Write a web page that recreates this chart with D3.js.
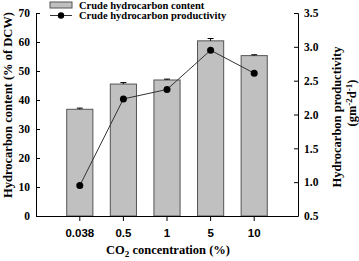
<!DOCTYPE html>
<html><head><meta charset="utf-8">
<script src="https://cdn.jsdelivr.net/npm/d3@7"></script>
<style>body{margin:0;background:#fff}svg{display:block}</style>
</head><body>
<script>
const categories = ["0.038", "0.5", "1", "5", "10"];
const contentValues = [36.8, 45.5, 46.9, 60.4, 55.3];
const contentErrors = [0.4, 0.5, 0.3, 0.8, 0.3];
const productivityValues = [0.95, 2.23, 2.37, 2.95, 2.61];
const leftTicks = [0, 10, 20, 30, 40, 50, 60, 70];
const rightTicks = [0.5, 1.0, 1.5, 2.0, 2.5, 3.0, 3.5];

const W = 359, H = 261;
const svg = d3.select("body").append("svg").attr("width", W).attr("height", H);
const serif = "'Liberation Serif','Times New Roman',serif";
const sans = "'Liberation Sans',Arial,sans-serif";

const x0 = 36, x1 = 298, yTop = 13, yBot = 216;
const x = d3.scaleBand().domain(categories).range([58, 276]).paddingInner(0.4).paddingOuter(0.2);
const yL = d3.scaleLinear().domain([0, 70]).range([yBot, yTop]);
const yR = d3.scaleLinear().domain([0.5, 3.5]).range([yBot, yTop]);

// bars
svg.append("g").selectAll("rect").data(categories).join("rect")
  .attr("x", d => x(d)).attr("width", x.bandwidth())
  .attr("y", (d, i) => yL(contentValues[i]))
  .attr("height", (d, i) => yBot - yL(contentValues[i]))
  .attr("fill", "#c0c0c0").attr("stroke", "#555").attr("stroke-width", 1);

// error bars
const eg = svg.append("g").attr("stroke", "#000").attr("stroke-width", 1);
categories.forEach((c, i) => {
  const cx = x(c) + x.bandwidth() / 2;
  const top = yL(contentValues[i] + contentErrors[i]);
  eg.append("line").attr("x1", cx).attr("x2", cx).attr("y1", yL(contentValues[i])).attr("y2", top);
  eg.append("line").attr("x1", cx - 3).attr("x2", cx + 3).attr("y1", top).attr("y2", top);
});

// line
const line = d3.line().x((d, i) => x(categories[i]) + x.bandwidth() / 2).y(d => yR(d));
svg.append("path").datum(productivityValues).attr("d", line)
  .attr("fill", "none").attr("stroke", "#333").attr("stroke-width", 1);
svg.append("g").selectAll("circle").data(productivityValues).join("circle")
  .attr("cx", (d, i) => x(categories[i]) + x.bandwidth() / 2).attr("cy", d => yR(d))
  .attr("r", 3.5).attr("fill", "#000");

// axes
const axL = svg.append("g").attr("transform", `translate(${x0},0)`)
  .call(d3.axisLeft(yL).tickValues(leftTicks).tickSize(-4).tickPadding(6).tickFormat(d3.format("d")));
const axR = svg.append("g").attr("transform", `translate(${x1},0)`)
  .call(d3.axisRight(yR).tickValues(rightTicks).tickSize(-4).tickPadding(6).tickFormat(d3.format(".1f")));
const axX = svg.append("g").attr("transform", `translate(0,${yBot})`)
  .call(d3.axisBottom(x).tickSize(5).tickPadding(8));
axX.select(".domain").attr("d", `M${x0},0.5H${x1}`);
[axL, axR].forEach(a => a.selectAll("text").attr("font-family", serif).attr("font-weight", "bold").attr("font-size", 11.5).attr("fill", "#000"));
axX.selectAll("text").attr("font-family", sans).attr("font-weight", "bold").attr("font-size", 11.5).attr("fill", "#000");
svg.selectAll(".domain, .tick line").attr("stroke", "#000");

// axis titles
svg.append("text").attr("transform", `translate(12,105) rotate(-90)`).attr("text-anchor", "middle")
  .attr("font-family", serif).attr("font-weight", "bold").attr("font-size", 12.5).text("Hydrocarbon content (% of DCW)");
svg.append("text").attr("transform", `translate(341,117) rotate(-90)`).attr("text-anchor", "middle")
  .attr("font-family", serif).attr("font-weight", "bold").attr("font-size", 12.5).text("Hydrocarbon productivity");
const t2 = svg.append("text").attr("transform", `translate(356,103) rotate(-90)`).attr("text-anchor", "middle")
  .attr("font-family", serif).attr("font-weight", "bold").attr("font-size", 12.5);
t2.append("tspan").text("(gm");
t2.append("tspan").attr("dy", -4).attr("font-size", 9).text("-2");
t2.append("tspan").attr("dy", 4).text("d");
t2.append("tspan").attr("dy", -4).attr("font-size", 9).text("-1");
t2.append("tspan").attr("dy", 4).text(")");

const xt = svg.append("text").attr("x", 168).attr("y", 254).attr("text-anchor", "middle")
  .attr("font-family", serif).attr("font-weight", "bold").attr("font-size", 12.5);
xt.append("tspan").text("CO");
xt.append("tspan").attr("dy", 3).attr("font-size", 9).text("2");
xt.append("tspan").attr("dy", -3).text(" concentration (%)");

// legend
const lg = svg.append("g");
lg.append("rect").attr("x", 50).attr("y", 2).attr("width", 22).attr("height", 6)
  .attr("fill", "#c0c0c0").attr("stroke", "#555");
lg.append("line").attr("x1", 50).attr("x2", 72).attr("y1", 15.5).attr("y2", 15.5).attr("stroke", "#333");
lg.append("circle").attr("cx", 61).attr("cy", 15.5).attr("r", 3.2).attr("fill", "#000");
lg.append("text").attr("x", 79).attr("y", 9).attr("font-family", serif).attr("font-weight", "bold").attr("font-size", 10.5).text("Crude hydrocarbon content");
lg.append("text").attr("x", 79).attr("y", 19).attr("font-family", serif).attr("font-weight", "bold").attr("font-size", 10.5).text("Crude hydrocarbon productivity");
</script>
</body></html>
